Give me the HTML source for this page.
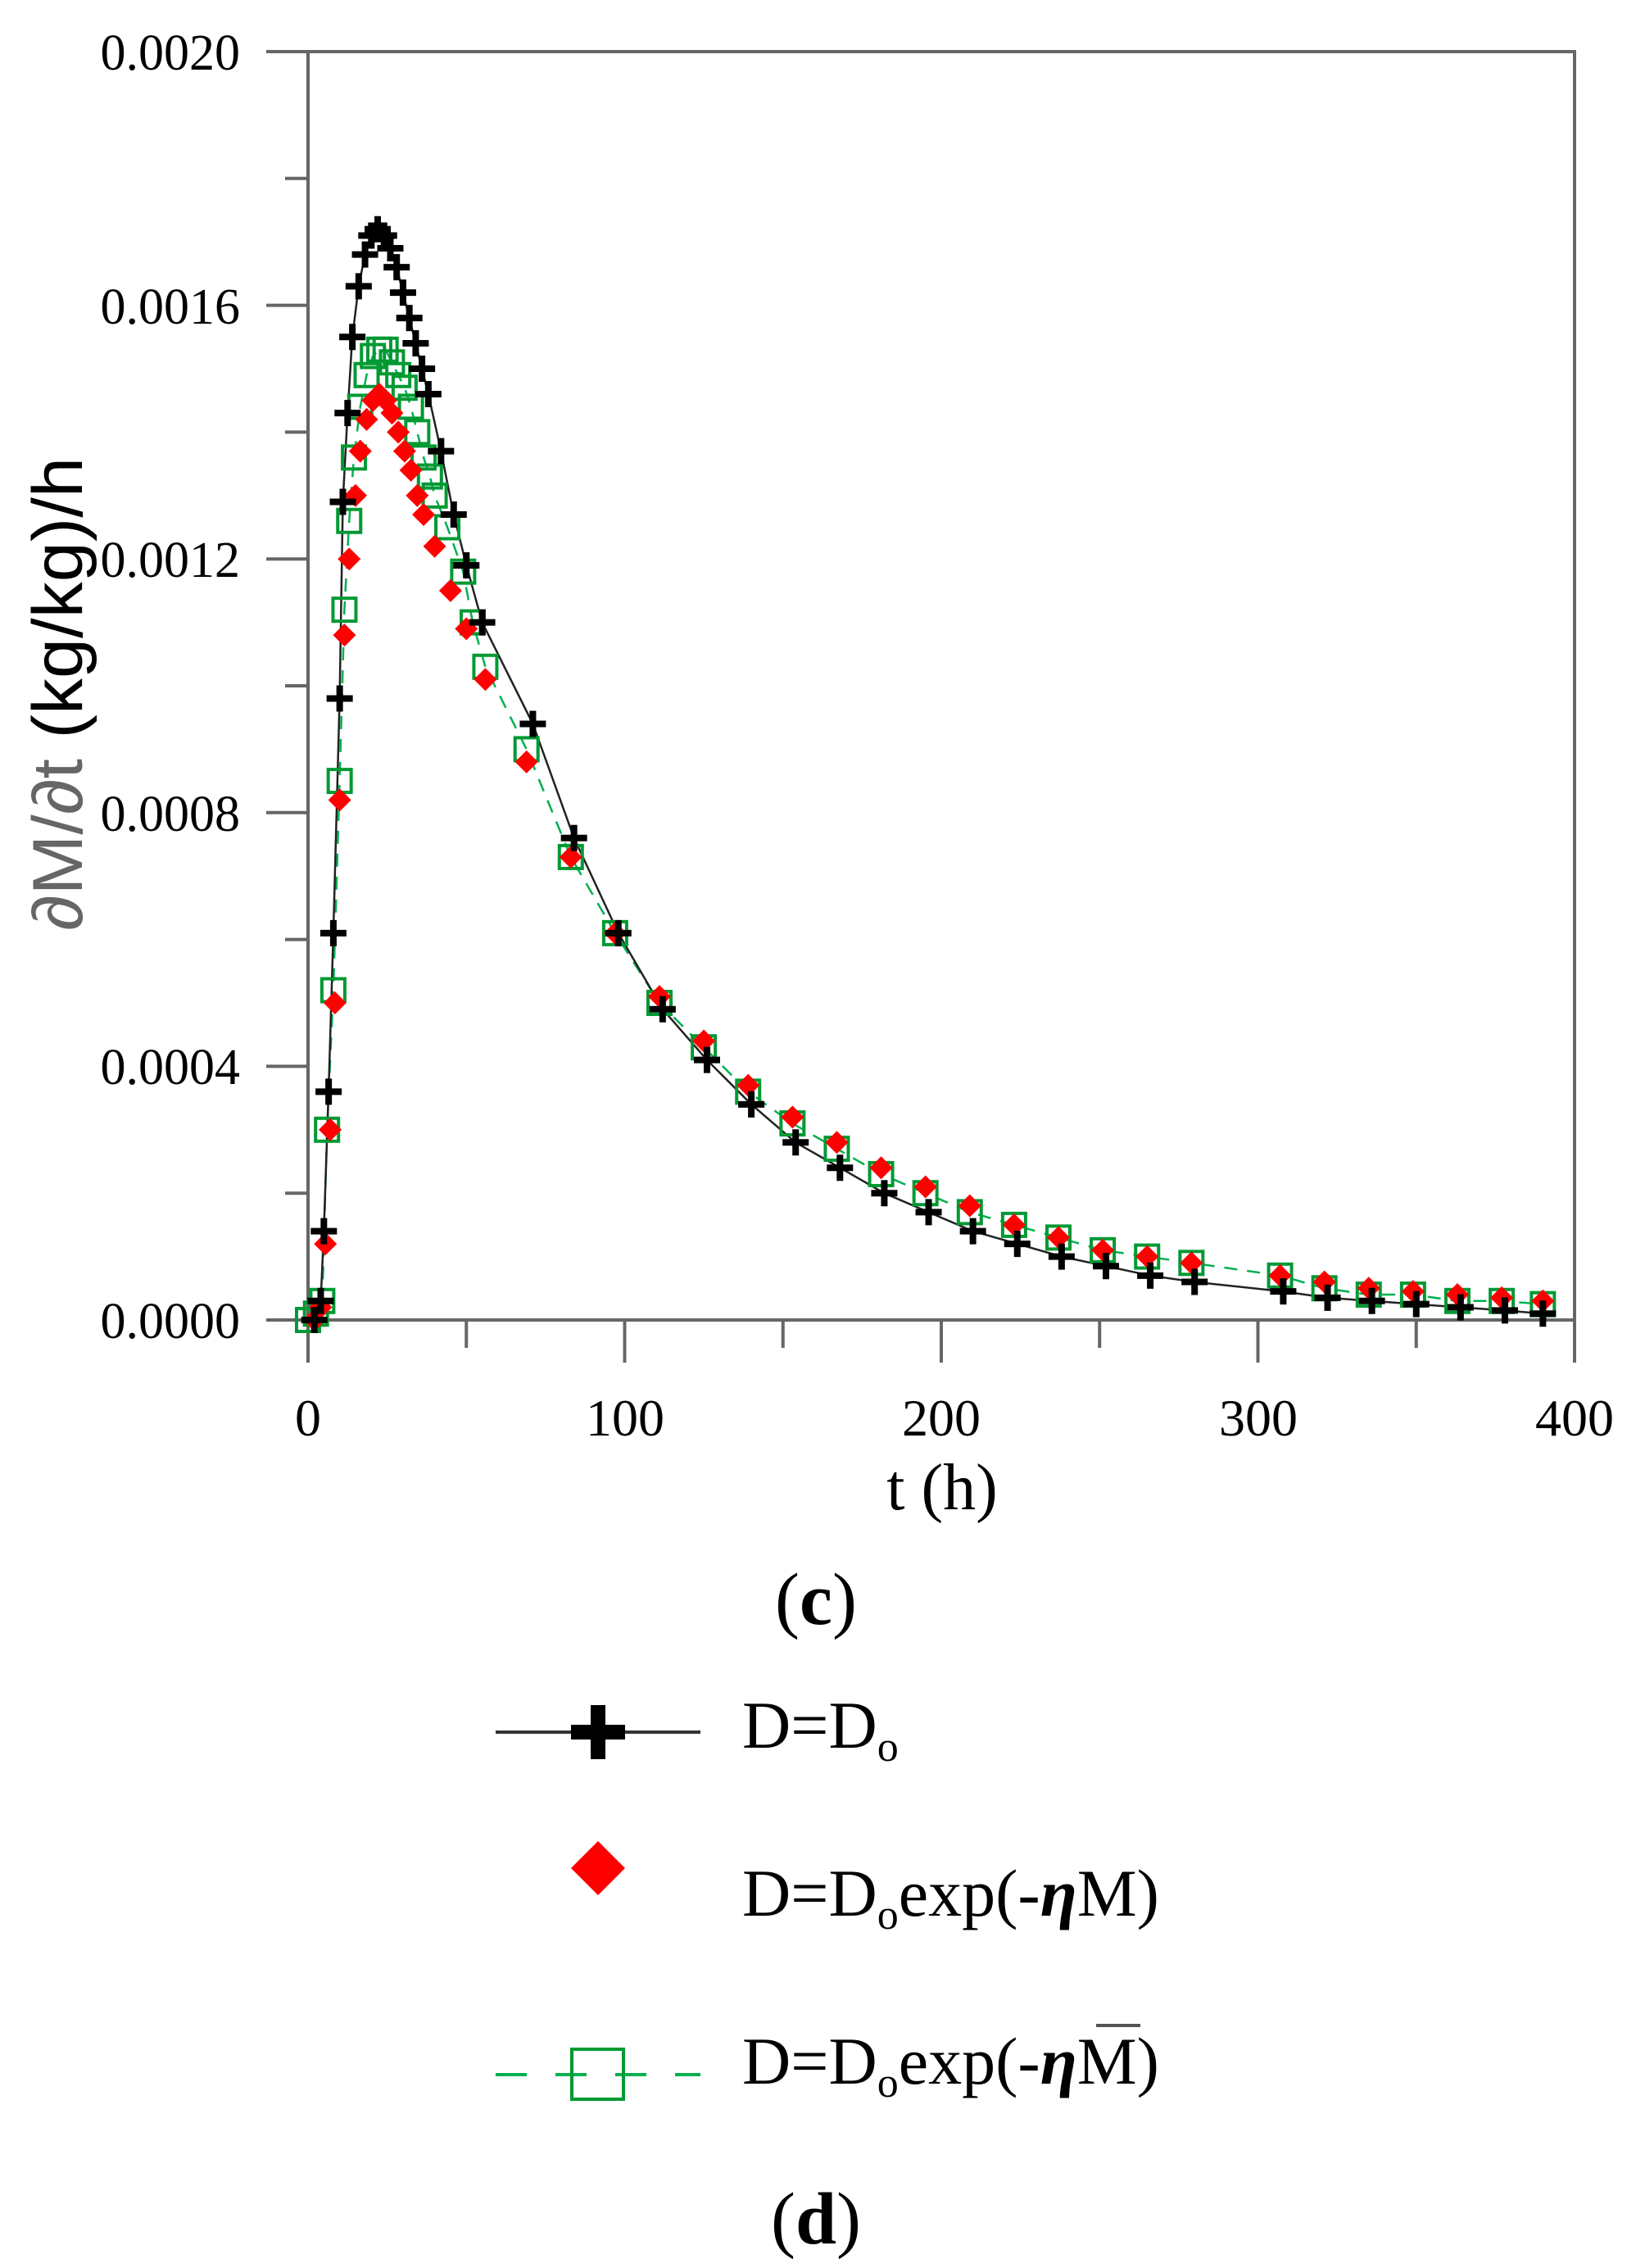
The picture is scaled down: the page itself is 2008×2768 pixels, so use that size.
<!DOCTYPE html>
<html><head><meta charset="utf-8"><style>
html,body{margin:0;padding:0;background:#fff;}
svg{display:block;}
</style></head><body>
<svg id="s" width="2008" height="2768" viewBox="0 0 2008 2768" xmlns="http://www.w3.org/2000/svg">
<rect width="2008" height="2768" fill="#fff"/>
<g id="axes" stroke="#666" stroke-width="4" fill="none">
<rect x="376" y="63" width="1546" height="1548"/>
</g>
<g id="ticks" stroke="#666" stroke-width="4"></g>
<g font-family="Liberation Serif, serif" font-size="62" fill="#000" text-anchor="end">
<text x="293" y="85">0.0020</text>
<text x="293" y="395">0.0016</text>
<text x="293" y="704">0.0012</text>
<text x="293" y="1014">0.0008</text>
<text x="293" y="1323">0.0004</text>
<text x="293" y="1633">0.0000</text>
</g>
<g font-family="Liberation Serif, serif" font-size="64" fill="#000" text-anchor="middle">
<text x="376" y="1752">0</text>
<text x="763" y="1752">100</text>
<text x="1149" y="1752">200</text>
<text x="1536" y="1752">300</text>
<text x="1922" y="1752">400</text>
<text x="1150" y="1842" font-size="80">t (h)</text>
<text x="996" y="1982" font-size="90"><tspan>(</tspan><tspan font-weight="bold">c</tspan><tspan>)</tspan></text>
<text x="996" y="2738" font-size="90"><tspan>(</tspan><tspan font-weight="bold">d</tspan><tspan>)</tspan></text>
</g>
<text transform="translate(100,1136) rotate(-90)" font-family="Liberation Sans, sans-serif" font-size="86" textLength="578" lengthAdjust="spacingAndGlyphs"><tspan fill="#666">∂M/∂t</tspan><tspan fill="#000"> (kg/kg)/h</tspan></text>
<g id="data"></g>
<!-- legend -->
<line x1="605" y1="2114" x2="855" y2="2114" stroke="#333" stroke-width="4"/>
<path d="M697,2105h66v18h-66z M721,2081h18v66h-18z" fill="#000"/>
<path d="M730,2247 L763,2280 L730,2313 L697,2280Z" fill="#f00"/>
<line x1="605" y1="2532" x2="855" y2="2532" stroke="#00b050" stroke-width="4" stroke-dasharray="38,35"/>
<rect x="698" y="2501" width="63" height="61" fill="none" stroke="#009933" stroke-width="4"/>
<g font-family="Liberation Serif, serif" font-size="82" fill="#000">
<text x="906" y="2133">D=D<tspan font-size="52" dy="16">o</tspan></text>
<text x="906" y="2338">D=D<tspan font-size="52" dy="16">o</tspan><tspan dy="-16">exp(-</tspan><tspan font-style="italic" font-weight="bold">η</tspan>M)</text>
<text x="906" y="2543">D=D<tspan font-size="52" dy="16">o</tspan><tspan dy="-16">exp(-</tspan><tspan font-style="italic" font-weight="bold">η</tspan>M)</text>
</g>
<line x1="1338" y1="2472" x2="1392" y2="2472" stroke="#555" stroke-width="4"/>
</svg>
<script>
var NS="http://www.w3.org/2000/svg";
function X(t){return 376+t*3.865;}
function Y(v){return 1611-v*774000;}
function el(p,tag,a){var e=document.createElementNS(NS,tag);for(var k in a)e.setAttribute(k,a[k]);p.appendChild(e);return e;}
var tk=document.getElementById('ticks');
for(var i=0;i<=10;i++){var y=1611-i*154.8;el(tk,'line',{x1:(i%2==0?325:348),y1:y,x2:376,y2:y});}
for(var i=0;i<=8;i++){var x=376+i*193.25;el(tk,'line',{x1:x,y1:1611,x2:x,y2:(i%2==0?1663:1645)});}
var B=[[2,0],[4,0.00003],[5,0.00014],[6.5,0.00036],[8,0.00061],[10,0.00098],[11,0.00129],[12.5,0.00143],[14,0.00155],[16,0.00163],[18,0.00168],[20,0.00171],[22,0.00172],[24,0.00171],[26,0.00169],[28,0.00166],[30,0.00162],[32,0.00158],[34,0.00154],[36,0.0015],[38,0.00146],[42,0.00137],[46,0.00127],[50,0.00119],[55,0.0011],[71,0.00094],[84,0.00076],[98,0.00061],[112,0.00049],[126,0.00041],[140,0.00034],[154,0.00028],[168,0.00024],[182,0.0002],[196,0.00017],[210,0.00014],[224,0.00012],[238,0.0001],[252,0.000085],[266,0.00007],[280,0.00006],[308,0.000045],[322,0.000035],[336,0.00003],[350,0.000025],[364,0.00002],[378,0.000015],[390,0.00001]];
var R=[[2,0],[4,0.00002],[5.5,0.00012],[7,0.0003],[8.5,0.0005],[10,0.00082],[11.5,0.00108],[13,0.0012],[15,0.0013],[16.5,0.00137],[18.5,0.00142],[20.5,0.00145],[22.5,0.00146],[24.5,0.00145],[26.5,0.00143],[28.5,0.0014],[30.5,0.00137],[32.5,0.00134],[34.5,0.0013],[36.5,0.00127],[40,0.00122],[45,0.00115],[50,0.00109],[56,0.00101],[69,0.00088],[83,0.00073],[97,0.00061],[111,0.00051],[125,0.00044],[139,0.00037],[153,0.00032],[167,0.00028],[181,0.00024],[195,0.00021],[209,0.00018],[223,0.00015],[237,0.00013],[251,0.00011],[265,0.0001],[279,0.00009],[307,0.00007],[321,0.00006],[335,0.00005],[349,0.000045],[363,0.00004],[377,0.000035],[390,0.00003]];
var G=[[0,0],[2.5,0.00001],[4.5,0.00003],[6,0.0003],[8,0.00052],[10,0.00085],[11.5,0.00112],[13,0.00126],[14.5,0.00136],[16.5,0.00144],[18.5,0.00149],[20.5,0.00152],[22.5,0.00153],[24.5,0.00153],[26.5,0.00151],[28.5,0.00149],[30.5,0.00147],[32.5,0.00144],[34.5,0.0014],[36.5,0.00136],[38.5,0.00133],[40,0.0013],[44,0.00125],[49,0.00118],[52,0.0011],[56,0.00103],[69,0.0009],[83,0.00073],[97,0.00061],[111,0.0005],[125,0.00043],[139,0.00036],[153,0.00031],[167,0.00027],[181,0.00023],[195,0.0002],[209,0.00017],[223,0.00015],[237,0.00013],[251,0.00011],[265,0.0001],[279,0.00009],[307,0.00007],[321,0.00005],[335,0.00004],[349,0.00004],[363,0.00003],[377,0.00003],[390,0.000025]];
var d=document.getElementById('data');
function pts(a){return a.map(function(p){return X(p[0]).toFixed(1)+','+Y(p[1]).toFixed(1);}).join(' ');}
el(d,'polyline',{points:pts(G),fill:'none',stroke:'#00b050','stroke-width':2.5,'stroke-dasharray':'16,12'});
el(d,'polyline',{points:pts(B),fill:'none',stroke:'#222','stroke-width':2.5});
G.forEach(function(p){var x=X(p[0]),y=Y(p[1]);el(d,'rect',{x:x-14,y:y-14,width:28,height:28,fill:'none',stroke:'#009933','stroke-width':4});});
R.forEach(function(p){var x=X(p[0]),y=Y(p[1]);el(d,'path',{d:'M'+x+','+(y-14)+'L'+(x+14)+','+y+'L'+x+','+(y+14)+'L'+(x-14)+','+y+'Z',fill:'#f00'});});
B.forEach(function(p){var x=X(p[0]),y=Y(p[1]);el(d,'path',{d:'M'+(x-16)+','+(y-4)+'h32v8h-32z M'+(x-4)+','+(y-16)+'h8v32h-8z',fill:'#000'});});
</script>
</body></html>
